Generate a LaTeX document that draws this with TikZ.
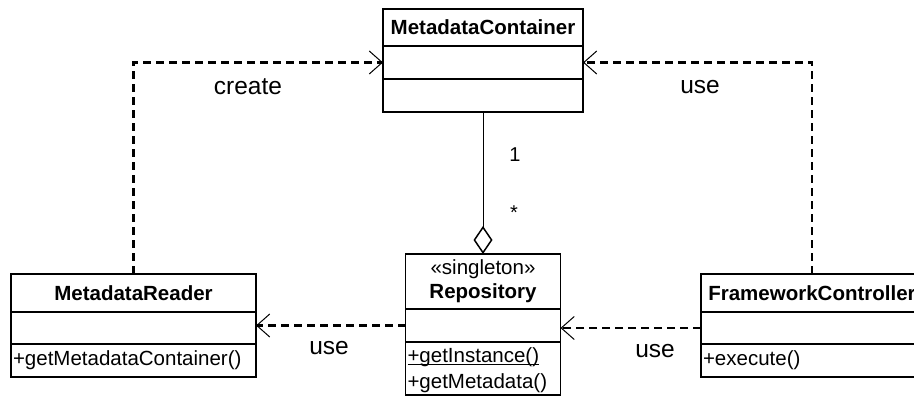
\documentclass[tikz,border=0pt]{standalone}
\usepackage{fontspec}
\setmainfont{Liberation Sans}
\usetikzlibrary{positioning,arrows.meta}
\tikzstyle{classhead} = [draw,line width=1.8pt,outer sep=0pt,inner sep=2pt,align=center,font=\fontsize{20.5}{24}\selectfont]
\tikzstyle{classpart} = [draw,line width=1.8pt,outer sep=0pt,inner sep=2pt,align=left,font=\fontsize{20.5}{26}\selectfont]
\tikzstyle{optext} = [inner sep=2pt,outer sep=0pt,align=left,font=\fontsize{20.5}{26}\selectfont]
\tikzstyle{dependency} = [line width=2.2pt,dash pattern=on 8pt off 5pt,arrows={-Straight Barb[length=13pt,width=23pt,line width=1pt]}]
\tikzstyle{aggregation} = [line width=0.9pt,arrows={Diamond[open,length=28pt,width=19pt,line width=1.5pt]-}]
\tikzstyle{edgetext} = [font=\fontsize{24.5}{28}\selectfont]
\tikzstyle{multiplicity} = [font=\fontsize{20}{24}\selectfont]
\newcommand{\staticop}[1]{\underline{\smash{#1}}}

\begin{document}
\begin{tikzpicture}[x=1pt,y=-1pt]
		\useasboundingbox (0,0) rectangle (914,398);

		% MetadataContainer
		\node (mc)[classhead,minimum width=200pt,minimum height=37pt] at (483,27.5) {\textbf{MetadataContainer}};
		\node (mca)[classpart,minimum width=200pt,minimum height=33pt,below=0pt of mc] {};
		\node (mco)[classpart,minimum width=200pt,minimum height=33pt,below=0pt of mca] {};

		% MetadataReader
		\node (mr)[classhead,minimum width=245pt,minimum height=38pt] at (133.5,293) {\textbf{MetadataReader}};
		\node (mra)[classpart,minimum width=245pt,minimum height=32pt,below=0pt of mr] {};
		\node (mro)[classpart,text width=241pt,minimum height=33pt,below=0pt of mra] {+getMetadataContainer()};

		% Repository
		\node (rep)[classhead,minimum width=155pt,minimum height=55pt] at (483,281.5) {«singleton»\\\textbf{Repository}};
		\node (repa)[classpart,minimum width=155pt,minimum height=33pt,below=0pt of rep] {};
		\node (repo)[classpart,minimum width=155pt,minimum height=53pt,below=0pt of repa] {};
		\node (repotext)[optext,anchor=west] at ([yshift=-9pt]repo.west) {\staticop{+getInstance()}\\+getMetadata()};

		% FrameworkController
		\node (fc)[classhead,minimum width=222pt,minimum height=38pt] at (812,293) {\textbf{FrameworkController}};
		\node (fca)[classpart,minimum width=222pt,minimum height=32pt,below=0pt of fc] {};
		\node (fco)[classpart,text width=218pt,minimum height=33pt,below=0pt of fca] {+execute()};

		\draw[aggregation] (rep.north) -- (mco.south)
			node[multiplicity,pos=0.7,xshift=32pt] {1}
			node[multiplicity,pos=0.29,xshift=31pt] {*};
		\draw[dependency] (mr.north) |- (mca.west);
		\draw[dependency] (fc.north) |- (mca.east);
		\draw[dependency] (repa.west) -- (repa.west -| mra.east);
		\draw[dependency] (fca.west) -- (fca.west -| repa.east);

		\node (tcreate)[edgetext] at (248,87) {create};
		\node (tusetop)[edgetext] at (700,87) {use};
		\node (tuseleft)[edgetext] at (329,348) {use};
		\node (tuseright)[edgetext] at (655,351) {use};
	\end{tikzpicture}
\end{document}
